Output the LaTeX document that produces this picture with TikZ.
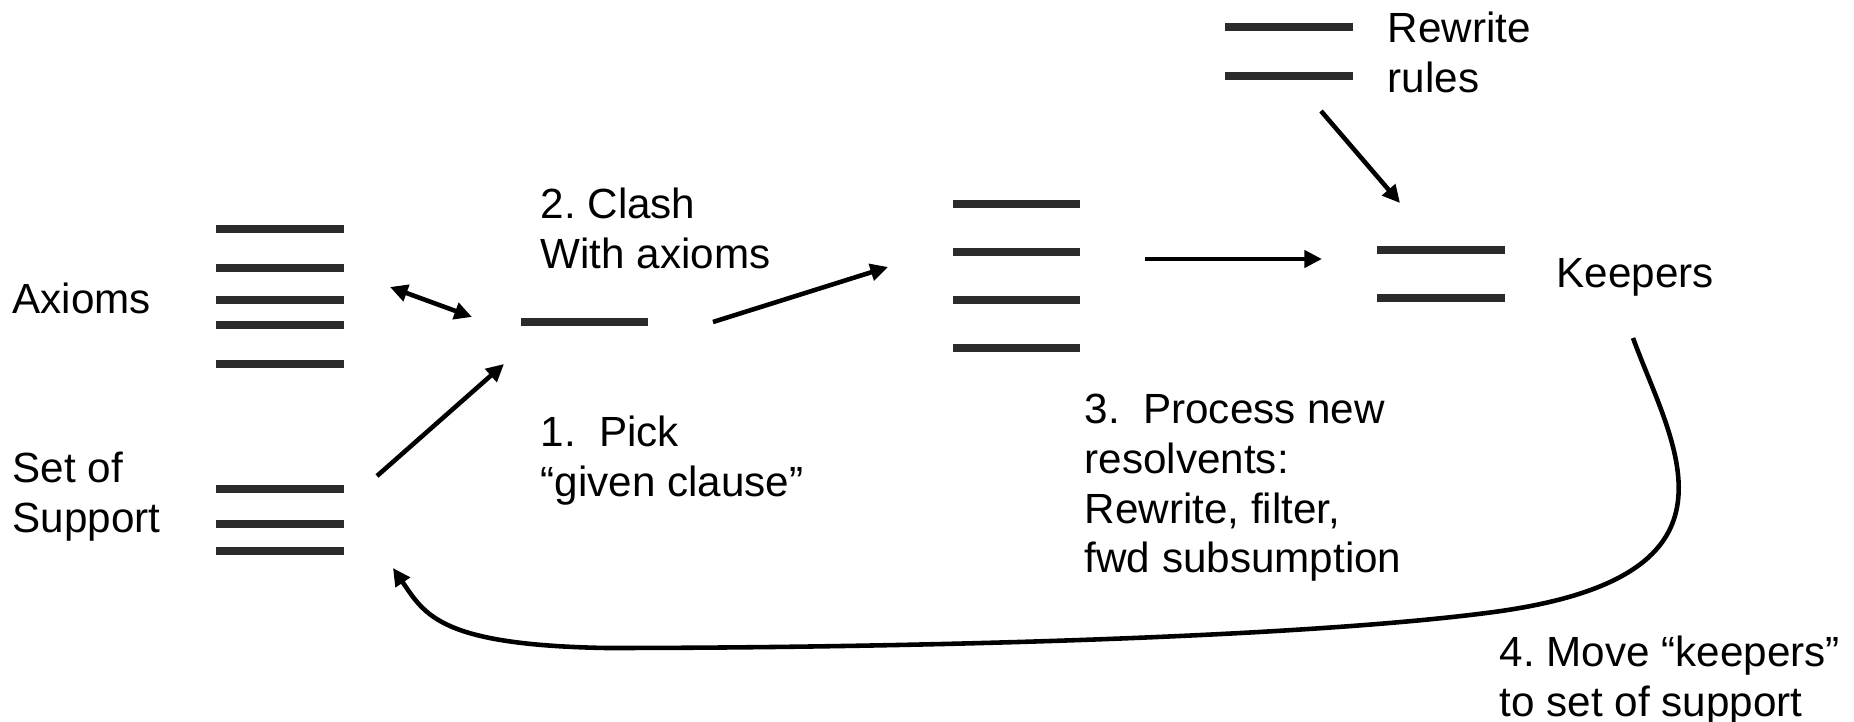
\documentclass[tikz,border=0pt]{standalone}
\usepackage{fontspec}
\setmainfont{Liberation Sans}
\usetikzlibrary{arrows.meta}
\frenchspacing
\definecolor{barcol}{HTML}{2B2B2B}
\tikzset{
    lbl/.style={font=\fontsize{12}{14.2}\selectfont, inner sep=0pt, anchor=north west, align=left},
    bar/.style={draw=barcol, line width=2.1pt},
    arr/.style={line width=1.3pt, -{Triangle[length=5pt,width=4.8pt]}},
    dblarr/.style={line width=1.3pt, {Triangle[length=5pt,width=4.8pt]}-{Triangle[length=5pt,width=4.8pt]}}
}

\begin{document}
\begin{tikzpicture}[x=0.01cm, y=-0.01cm]
    \useasboundingbox (0,0) rectangle (1854,722);

    % Define nodes
    \node[lbl]		(axioms)	at (12,282)		{Axioms};
    \node[lbl]		(sos)		at (12,451)		{Set of\\Support};
    \node[lbl]		(clash)		at (540,187)	{2. Clash\\With axioms};
    \node[lbl]		(pick)		at (540,415)	{1.\ \ Pick\\“given clause”};
    \node[lbl]		(process)	at (1084,393)	{3.\ \ Process new\\resolvents:\\Rewrite, filter,\\fwd subsumption};
    \node[lbl]		(rules)		at (1387,11)	{Rewrite\\rules};
    \node[lbl]		(keepers)	at (1556,258)	{Keepers};
    \node[lbl]		(move)		at (1499,635)	{4. Move “keepers”\\to set of support};

    % clause lists
    \foreach \y in {229,268,300,325,364} \draw[bar] (216,\y) -- (344,\y);
    \foreach \y in {489,524,551} \draw[bar] (216,\y) -- (344,\y);
    \draw[bar] (521,322) -- (648,322);
    \foreach \y in {204,252,300,348} \draw[bar] (953,\y) -- (1080,\y);
    \foreach \y in {250,298} \draw[bar] (1377,\y) -- (1505,\y);
    \foreach \y in {27,76} \draw[bar] (1225,\y) -- (1353,\y);

    % end points
    \coordinate (ax-in)		at (390,287);
    \coordinate (given-l)	at (472,317);
    \coordinate (sos-out)	at (377,476);
    \coordinate (given-b)	at (504,364);
    \coordinate (given-r)	at (713,322);
    \coordinate (res-in)	at (888,267);
    \coordinate (res-out)	at (1145,259);
    \coordinate (kp-in)		at (1322,259);
    \coordinate (rules-out)	at (1321,111);
    \coordinate (kp-top)	at (1400,203);
    \coordinate (kp-out)	at (1633,338);
    \coordinate (sos-in)	at (393,568);

    % Connect nodes
    \draw[dblarr] (ax-in) -- (given-l);
    \draw[arr] (sos-out) -- (given-b);
    \draw[arr] (given-r) -- (res-in);
    \draw[arr] (res-out) -- (kp-in);
    \draw[arr] (rules-out) -- (kp-top);
    \draw[arr] (kp-out) .. controls (1672,445) and (1760,576) .. (1494,612)
        .. controls (1300,638) and (900,648) .. (606,648)
        .. controls (440,645) and (425,615) .. (sos-in);
\end{tikzpicture}
\end{document}
